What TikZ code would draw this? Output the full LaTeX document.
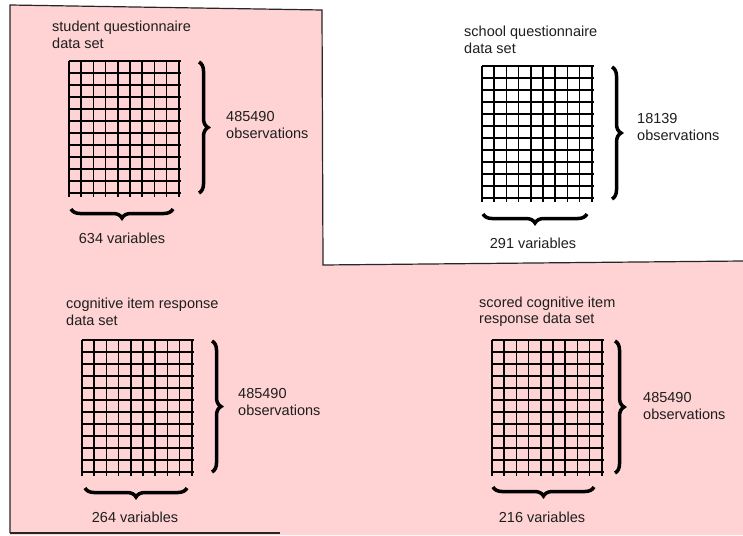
\documentclass[tikz,border=0pt]{standalone}
\usepackage{fontspec}
\setmainfont{Liberation Sans}
\usetikzlibrary{decorations.pathreplacing,calc}
\definecolor{pinkbg}{RGB}{255,211,211}
\definecolor{txt}{RGB}{30,30,30}
\begin{document}
\begin{tikzpicture}[x=1pt,y=-1pt,
  lbl/.style={inner sep=0pt, align=left, anchor=west, text=txt, font=\fontsize{14.5}{16.5}\selectfont},
  vlbl/.style={inner sep=0pt, anchor=center, text=txt, font=\fontsize{14.5}{16.5}\selectfont},
  gridline/.style={line width=1.7pt, black},
  bracestyle/.style={decorate, decoration={brace, amplitude=9pt}, line width=3.5pt, black},
  border/.style={line width=1.2pt, black!85}]
\useasboundingbox (0,0) rectangle (743,535);
% pink region
\fill[pinkbg] (10,5) -- (322,10) -- (323,265) -- (743,261) -- (743,535) -- (10,535) -- cycle;
\draw[border] (10,533) -- (10,5) -- (322,10) -- (323,265) -- (743,261);
\draw[border] (10,533) -- (280,533);
% grid macro
\newcommand{\datagrid}[3]{%
  \coordinate (#1-tl) at (#2,#3);
  \foreach \i in {0,...,9} {\draw[gridline] ($(#1-tl)+(12.2*\i,0)$) -- ++(0,136);}
  \foreach \j in {0,...,11} {\draw[gridline] ($(#1-tl)+(0,12*\j)$) -- ++(112,0);}
}
\datagrid{g1}{69}{61}
\datagrid{g2}{482}{66}
\datagrid{g3}{82}{340}
\datagrid{g4}{492}{340}
% titles
\node[lbl] (t1) at (52,35) {student questionnaire\\data set};
\node[lbl] (t2) at (464,40) {school questionnaire\\data set};
\node[lbl] (t3) at (66,312) {cognitive item response\\data set};
\node[lbl] (t4) at (479,311.5) {scored cognitive item\\response data set};
% observation labels
\node[lbl] (o1) at (226,125) {485490\\observations};
\node[lbl] (o2) at (637,127) {18139\\observations};
\node[lbl] (o3) at (238,402) {485490\\observations};
\node[lbl] (o4) at (643,406) {485490\\observations};
% variable labels
\node[vlbl] (v1) at (122,238) {634 variables};
\node[vlbl] (v2) at (533,243) {291 variables};
\node[vlbl] (v3) at (135,517) {264 variables};
\node[vlbl] (v4) at (542,517) {216 variables};
% braces
\coordinate (r1a) at (199,62); \coordinate (r1b) at (199,193);
\coordinate (r2a) at (612,67); \coordinate (r2b) at (612,199);
\coordinate (r3a) at (212,341); \coordinate (r3b) at (212,472);
\coordinate (r4a) at (615,341); \coordinate (r4b) at (615,473);
\draw[bracestyle] (r1a) -- (r1b);
\draw[bracestyle] (r2a) -- (r2b);
\draw[bracestyle] (r3a) -- (r3b);
\draw[bracestyle] (r4a) -- (r4b);
\coordinate (b1a) at (173,209); \coordinate (b1b) at (71,209);
\coordinate (b2a) at (587,214); \coordinate (b2b) at (483,214);
\coordinate (b3a) at (187,488); \coordinate (b3b) at (85,488);
\coordinate (b4a) at (594,487); \coordinate (b4b) at (493,487);
\draw[bracestyle] (b1a) -- (b1b);
\draw[bracestyle] (b2a) -- (b2b);
\draw[bracestyle] (b3a) -- (b3b);
\draw[bracestyle] (b4a) -- (b4b);
\end{tikzpicture}
\end{document}
